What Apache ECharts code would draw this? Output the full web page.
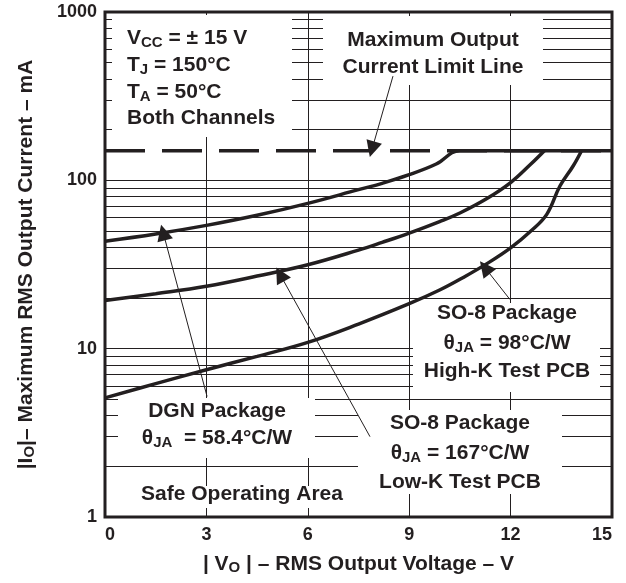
<!DOCTYPE html>
<html>
<head>
<meta charset="utf-8">
<script src="https://cdn.jsdelivr.net/npm/echarts@6/dist/echarts.min.js"></script>
<style>
  html, body { margin: 0; padding: 0; background: #fff; }
  #chart { width: 626px; height: 583px; }
</style>
</head>
<body>
<div id="chart"></div>
<script>
(function () {
  const INK = '#231f20';
  const FONT = '"Liberation Sans", Arial, sans-serif';

  // axis ranges
  const xTicks = [0, 3, 6, 9, 12, 15];
  const yRange = [1, 1000];
  const minorGrid = [2, 3, 4, 5, 6, 7, 8, 9, 20, 30, 40, 50, 60, 70, 80, 90, 200, 300, 400, 500, 600, 700, 800, 900];

  // maximum output current limit line (mA)
  const limitCurrent = 150;
  const limitVolts = [0, 15];

  // DGN package, 58.4 C/W
  const dgnVolts = [0, 1.5, 3, 4.5, 6, 7.5, 8.2, 9, 9.8, 10.5, 15];
  const dgnCurrent = [43.5, 48, 54, 62, 73, 88, 96, 108, 125, 150, 150];

  // SO-8 curve pointed at by the 167 C/W label
  const so8LowVolts = [0, 1.5, 3, 4.5, 6, 7.5, 8.2, 9, 9.9, 10.5, 11.3, 12, 12.6, 13];
  const so8LowCurrent = [19.3, 21.2, 23.5, 27, 31.5, 38.5, 42.8, 48.6, 56.9, 64, 78, 97, 125, 150];

  // SO-8 curve pointed at by the 98 C/W label
  const so8HighVolts = [0, 1.5, 3, 4.5, 6, 7.5, 9, 9.9, 10.6, 11.3, 12, 12.6, 13.07, 13.46, 13.85, 14.1];
  const so8HighCurrent = [5.1, 6.2, 7.5, 9, 10.9, 14, 18.5, 22.3, 26.5, 32, 39.7, 50, 62.8, 92.5, 121.7, 150];

  // annotation arrows: [tail, tip] in data units
  const arrowTails = [[3.02, 5.2], [7.84, 3.0], [11.98, 19.6], [8.52, 416]];
  const arrowTips = [[1.72, 49], [5.18, 27.6], [11.24, 30.3], [7.9, 153]];

  function zip(xs, ys) {
    return xs.map((x, i) => [x, ys[i]]);
  }

  const subStyle = { fontSize: 15, fontWeight: 'bold', fontFamily: FONT, fill: INK, color: INK, verticalAlign: 'bottom' };

  function label(x, y, text, align) {
    return {
      type: 'text',
      x: x,
      y: y,
      z: 10,
      silent: true,
      style: {
        text: text,
        fill: INK,
        fontSize: 21,
        fontWeight: 'bold',
        fontFamily: FONT,
        lineHeight: 25,
        textAlign: align || 'center',
        align: align || 'center',
        textVerticalAlign: 'middle',
        verticalAlign: 'middle',
        rich: { s: subStyle }
      }
    };
  }

  function whiteBox(x, y, w, h) {
    return { type: 'rect', z: 1, silent: true, shape: { x: x, y: y, width: w, height: h }, style: { fill: '#fff' } };
  }

  function curve(name, data) {
    return {
      name: name,
      type: 'line',
      data: data,
      symbol: 'none',
      smooth: 0.4,
      z: 3,
      lineStyle: { color: INK, width: 3.5 },
      silent: true
    };
  }

  const titleRich = { s: { fontSize: 15, fontWeight: 'bold', fontFamily: FONT, color: INK, verticalAlign: 'bottom' } };

  const chart = echarts.init(document.getElementById('chart'), null, { renderer: 'canvas' });

  const option = {
    animation: false,
    backgroundColor: '#fff',
    grid: {
      left: 105, right: 14, top: 12, bottom: 66,
      show: true, borderColor: INK, borderWidth: 3, backgroundColor: 'transparent'
    },
    xAxis: {
      type: 'value',
      min: xTicks[0],
      max: xTicks[xTicks.length - 1],
      interval: 3,
      axisLine: { show: false },
      axisTick: { show: false },
      splitLine: { show: true, lineStyle: { color: INK, width: 1 } },
      axisLabel: {
        color: INK, fontSize: 18, fontWeight: 'bold', fontFamily: FONT, margin: 9,
        alignMinLabel: 'left', alignMaxLabel: 'right'
      },
      name: '| V{s|O} | – RMS Output Voltage – V',
      nameLocation: 'middle',
      nameGap: 37,
      nameTextStyle: { color: INK, fontSize: 21, fontWeight: 'bold', fontFamily: FONT, rich: titleRich }
    },
    yAxis: {
      type: 'log',
      logBase: 10,
      min: yRange[0],
      max: yRange[1],
      axisLine: { show: false },
      axisTick: { show: false },
      splitLine: { show: true, lineStyle: { color: INK, width: 1 } },
      axisLabel: {
        color: INK, fontSize: 18, fontWeight: 'bold', fontFamily: FONT, margin: 8,
        formatter: v => String(v)
      },
      name: '|I{s|O}|– Maximum RMS Output Current – mA',
      nameLocation: 'middle',
      nameRotate: 90,
      nameGap: 68,
      nameTextStyle: { color: INK, fontSize: 21, fontWeight: 'bold', fontFamily: FONT, rich: titleRich }
    },
    series: [
      {
        name: 'minor grid',
        type: 'line',
        data: [],
        silent: true,
        z: 0,
        markLine: {
          silent: true,
          z: 0,
          symbol: 'none',
          label: { show: false },
          lineStyle: { color: INK, width: 1, type: 'solid' },
          data: minorGrid.map(v => ({ yAxis: v }))
        }
      },
      {
        name: 'limit',
        type: 'line',
        data: limitVolts.map(v => [v, limitCurrent]),
        symbol: 'none',
        z: 3,
        silent: true,
        lineStyle: { color: INK, width: 3.5, type: [40, 17] }
      },
      curve('DGN', zip(dgnVolts, dgnCurrent)),
      curve('SO-8 167', zip(so8LowVolts, so8LowCurrent)),
      curve('SO-8 98', zip(so8HighVolts, so8HighCurrent)),
      {
        name: 'arrows',
        type: 'line',
        data: [],
        silent: true,
        markLine: {
          silent: true,
          z: 6,
          symbol: ['none', 'triangle'],
          symbolSize: 16,
          label: { show: false },
          lineStyle: { color: INK, width: 1, type: 'solid' },
          data: arrowTails.map((t, i) => [{ coord: t }, { coord: arrowTips[i] }])
        }
      }
    ],
    graphic: {
      elements: [
        whiteBox(112, 15, 180, 122),
        whiteBox(323, 16, 220, 69),
        whiteBox(118, 398, 197, 60),
        whiteBox(130, 486, 222, 22),
        whiteBox(413, 303, 187, 89),
        whiteBox(358, 410, 204, 84),

        label(127, 38, 'V{s|CC} = ± 15 V', 'left'),
        label(127, 65, 'T{s|J} = 150°C', 'left'),
        label(127, 92, 'T{s|A} = 50°C', 'left'),
        label(127, 118, 'Both Channels', 'left'),

        label(433, 40, 'Maximum Output'),
        label(433, 67, 'Current Limit Line'),

        label(217, 411, 'DGN Package'),
        label(217, 438, 'θ{s|JA}  = 58.4°C/W'),

        label(242, 494, 'Safe Operating Area'),

        label(507, 313, 'SO-8 Package'),
        label(507, 343, 'θ{s|JA} = 98°C/W'),
        label(507, 371, 'High-K Test PCB'),

        label(460, 423, 'SO-8 Package'),
        label(460, 453, 'θ{s|JA} = 167°C/W'),
        label(460, 482, 'Low-K Test PCB')
      ]
    }
  };

  chart.setOption(option);
})();
</script>
</body>
</html>
